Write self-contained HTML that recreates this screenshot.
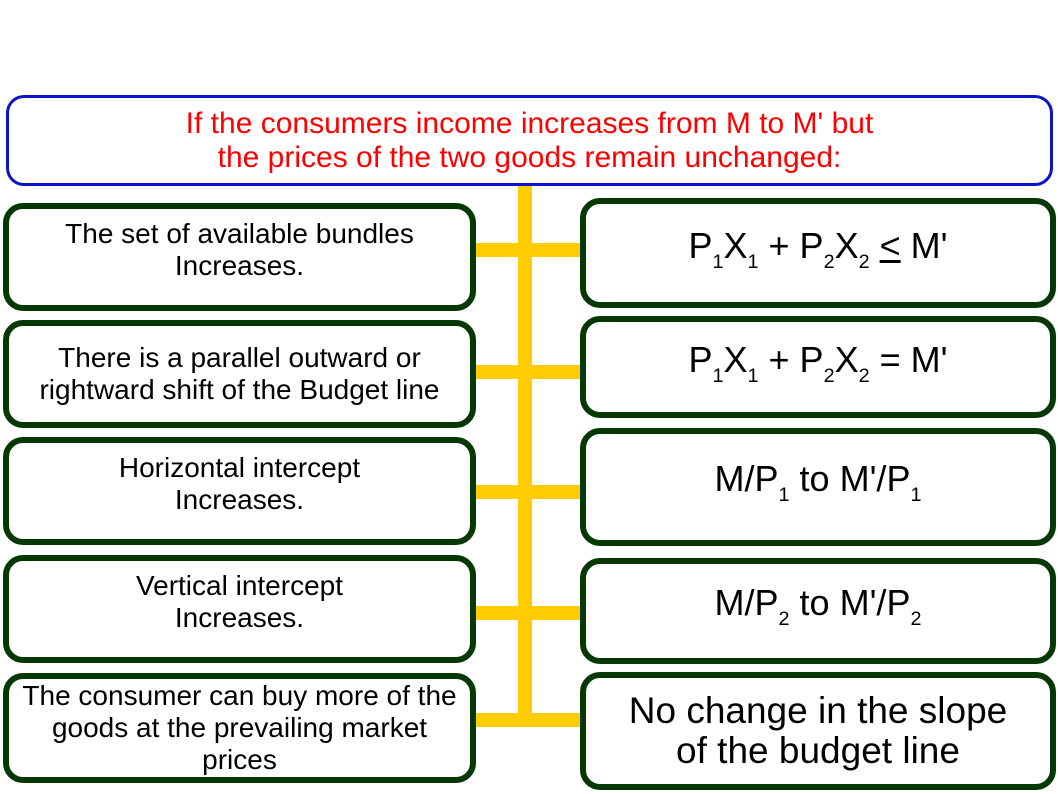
<!DOCTYPE html>
<html><head><meta charset="utf-8"><style>
body{margin:0;width:1058px;height:794px;background:#fff;position:relative;overflow:hidden;font-family:"Liberation Sans",sans-serif}
.b{position:absolute;box-sizing:border-box;border:6px solid #063806;border-radius:20px;background:#fff;display:flex;align-items:center;justify-content:center;text-align:center;color:#000;line-height:32px;font-size:28px}
.r{font-size:36px;line-height:40px}
.y{position:absolute;background:#ffcc00}
sub{font-size:55%;vertical-align:-10px;line-height:0}
</style></head><body>
<div class="y" style="left:518px;top:185px;width:14px;height:542px"></div>
<div class="y" style="left:470px;top:243px;width:115px;height:14px"></div>
<div class="y" style="left:470px;top:365px;width:115px;height:14px"></div>
<div class="y" style="left:470px;top:485px;width:115px;height:14px"></div>
<div class="y" style="left:470px;top:606px;width:115px;height:14px"></div>
<div class="y" style="left:470px;top:713px;width:115px;height:14px"></div>
<div class="b" style="left:6px;top:95px;width:1047px;height:91px;border:3px solid #0a14c8;color:#f00;font-size:30px;line-height:34px;border-radius:18px"><div>If the consumers income increases from M to M' but<br>the prices of the two goods remain unchanged:</div></div>
<div class="b" style="left:3px;top:203px;width:473px;height:108px;padding-bottom:14px"><div>The set of available bundles<br>Increases.</div></div>
<div class="b" style="left:3px;top:320px;width:473px;height:108px"><div>There is a parallel outward or<br>rightward shift of the Budget line</div></div>
<div class="b" style="left:3px;top:437px;width:473px;height:108px;padding-bottom:14px"><div>Horizontal intercept<br>Increases.</div></div>
<div class="b" style="left:3px;top:555px;width:473px;height:108px;padding-bottom:14px"><div>Vertical intercept<br>Increases.</div></div>
<div class="b" style="left:3px;top:673px;width:473px;height:110px"><div>The consumer can buy more of the<br>goods at the prevailing market<br>prices</div></div>
<div class="b r" style="left:580px;top:198px;width:476px;height:110px;padding-bottom:14px"><div>P<sub>1</sub>X<sub>1</sub> + P<sub>2</sub>X<sub>2</sub> <u>&lt;</u> M'</div></div>
<div class="b r" style="left:580px;top:316px;width:476px;height:102px;padding-bottom:14px"><div>P<sub>1</sub>X<sub>1</sub> + P<sub>2</sub>X<sub>2</sub> = M'</div></div>
<div class="b r" style="left:580px;top:428px;width:476px;height:118px;padding-bottom:16px"><div>M/P<sub>1</sub> to M'/P<sub>1</sub></div></div>
<div class="b r" style="left:580px;top:558px;width:476px;height:106px;padding-bottom:16px"><div>M/P<sub>2</sub> to M'/P<sub>2</sub></div></div>
<div class="b r" style="left:580px;top:672px;width:476px;height:118px;font-size:37px"><div>No change in the slope<br>of the budget line</div></div>
</body></html>
